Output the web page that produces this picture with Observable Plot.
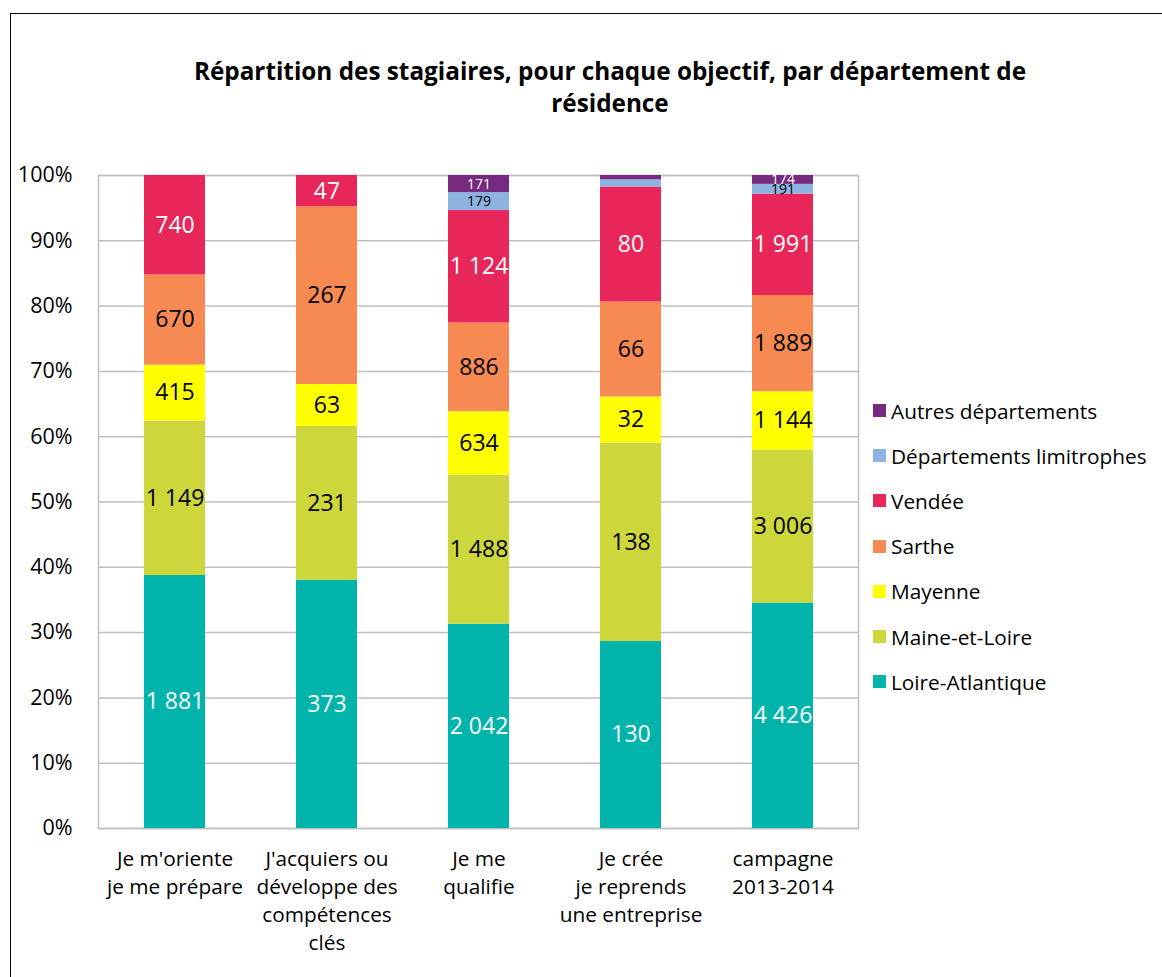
<!DOCTYPE html>
<html><head><meta charset="utf-8">
<script src="https://cdn.jsdelivr.net/npm/d3@7"></script>
<script src="https://cdn.jsdelivr.net/npm/@observablehq/plot@0.6"></script>
<style>
body{margin:0;background:#fff;font-family:"Open Sans",sans-serif;}
#wrap{position:relative;width:1162px;height:977px;overflow:hidden;}
#frame{position:absolute;left:10px;top:13px;width:1200px;height:1000px;border:1.5px solid #000;box-sizing:border-box;}
#title{position:absolute;left:10px;width:1200px;top:55px;text-align:center;font-weight:bold;font-size:24.3px;line-height:32px;color:#000;}
#title span{display:block;width:1000px;margin-left:100px;}
#legend{position:absolute;left:873px;top:388px;font-size:20.8px;color:#000;}
#legend .row{height:45.2px;display:flex;align-items:center;}
#legend .sw{width:13px;height:13px;margin-right:5px;}
#chart{position:absolute;left:0;top:0;}
</style></head>
<body><div id="wrap"><div id="frame"></div>
<div id="title"><span>Répartition des stagiaires, pour chaque objectif, par département de<br>résidence</span></div>
<div id="chart"></div><div id="legend"></div></div>
<script>
const categories = ["Je m'oriente\nje me prépare", "J'acquiers ou\ndéveloppe des\ncompétences\nclés", "Je me\nqualifie", "Je crée\nje reprends\nune entreprise", "campagne\n2013-2014"];
const departements = ["Loire-Atlantique", "Maine-et-Loire", "Mayenne", "Sarthe", "Vendée", "Départements limitrophes", "Autres départements"];
const colors = ["#00B4AC", "#CDD63B", "#FFFF00", "#F68A52", "#E9265A", "#8DB3E2", "#762A80"];
const labelColors = ["white", "black", "black", "black", "white", "black", "white"];
const loireAtlantique = [1881, 373, 2042, 130, 4426];
const maineEtLoire = [1149, 231, 1488, 138, 3006];
const mayenne = [415, 63, 634, 32, 1144];
const sarthe = [670, 267, 886, 66, 1889];
const vendee = [740, 47, 1124, 80, 1991];
const limitrophes = [0, 0, 179, 5, 191];
const autres = [0, 0, 171, 3, 174];
const series = [loireAtlantique, maineEtLoire, mayenne, sarthe, vendee, limitrophes, autres];

const data = [];
series.forEach((vals, si) => vals.forEach((v, ci) => data.push({cat: categories[ci], dept: departements[si], si, value: v})));
const totals = categories.map((c, ci) => d3.sum(series, s => s[ci]));
data.forEach(d => d.share = d.value / totals[categories.indexOf(d.cat)]);
const fmt = v => d3.format(",")(v).replace(/,/g, " ");
const yTicks = d3.range(0, 11).map(i => i / 10);

const chart = Plot.plot({
  width: 1162, height: 977,
  marginLeft: 98, marginRight: 304, marginTop: 175, marginBottom: 149,
  style: {fontFamily: "'Open Sans', sans-serif", background: "transparent"},
  x: {domain: categories, paddingInner: 0.6, paddingOuter: 0.3, axis: null},
  y: {domain: [0, 1], label: null},
  color: {type: "identity"},
  marks: [
    Plot.gridY({ticks: yTicks, stroke: "#BFBFBF", strokeOpacity: 1, strokeWidth: 1.5}),
    Plot.frame({stroke: "#BFBFBF", strokeWidth: 1.5}),
    Plot.axisY({ticks: yTicks, tickFormat: d => Math.round(d * 100) + "%", tickSize: 0, tickPadding: 26, fontSize: 21.5, label: null, fill: "#000"}),
    Plot.barY(data, {x: "cat", y: "value", z: "dept", offset: "normalize", fill: d => colors[d.si]}),
    Plot.text(data, Plot.stackY({x: "cat", y: "value", z: "dept", offset: "normalize",
      text: d => d.share > 0.012 ? fmt(d.value) : "",
      fill: d => labelColors[d.si],
      fontSize: d => d.share < 0.03 ? 14 : 23})),
    Plot.text(categories, {x: d => d, text: d => d, frameAnchor: "bottom", lineAnchor: "top", dy: 18, fontSize: 20.8, lineHeight: 1.345, fill: "#000"})
  ]
});
document.getElementById("chart").appendChild(chart);

const legend = document.getElementById("legend");
departements.slice().reverse().forEach((name, i) => {
  const idx = departements.length - 1 - i;
  const row = document.createElement("div");
  row.className = "row";
  row.innerHTML = `<div class="sw" style="background:${colors[idx]}"></div><span>${name}</span>`;
  legend.appendChild(row);
});
</script></body></html>
